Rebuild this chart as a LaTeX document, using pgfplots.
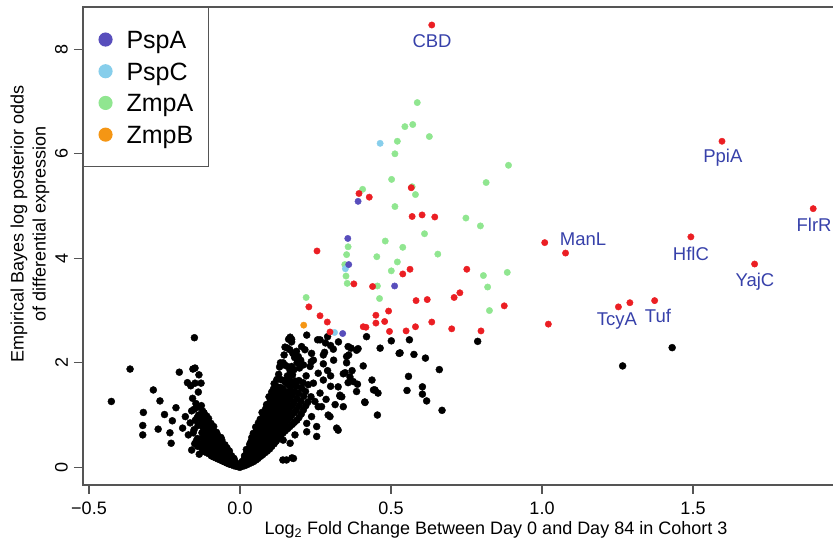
\documentclass[border=0pt]{standalone}
\usepackage{pgfplots}
\pgfplotsset{compat=1.18}
\usepackage{fontspec}
\setmainfont{Liberation Sans}
\definecolor{ptred}{RGB}{235,30,35}
\definecolor{ptgreen}{RGB}{144,230,144}
\definecolor{ptsky}{RGB}{135,206,235}
\definecolor{ptpurple}{RGB}{88,78,188}
\definecolor{ptorange}{RGB}{245,150,20}
\definecolor{lblblue}{RGB}{55,65,170}
\definecolor{axgray}{RGB}{85,85,85}
\begin{document}
\begin{tikzpicture}[x=1pt,y=1pt]
\begin{axis}[
  at={(83pt,60pt)}, anchor=south west,
  scale only axis, width=757pt, height=478pt,
  xmin=-0.51987, xmax=1.98675, ymin=-0.3388, ymax=8.8096,
  axis line style={draw=axgray, line width=1.1pt},
  xtick={-0.5,0,0.5,1,1.5}, xticklabels={−0.5,0.0,0.5,1.0,1.5},
  ytick={0,2,4,6,8}, yticklabels={0,2,4,6,8},
  tick align=outside, xtick pos=left, ytick pos=left,
  major tick length=9pt,
  tick style={draw=axgray, line width=1.1pt},
  tick label style={font=\fontsize{18}{21}\selectfont, inner sep=4pt},
  xticklabel shift=3.5pt, yticklabel shift=2pt,
  yticklabel style={rotate=90, anchor=south},
  legend cell align=left,
  legend style={at={(0,1)}, anchor=north west, draw=axgray, line width=1.1pt, fill=white,
    inner xsep=15.5pt, inner ysep=23pt, font=\fontsize{25}{30}\selectfont, row sep=13.7pt,
    nodes={inner sep=0pt, text height=18pt, text depth=0pt},
    /tikz/every odd column/.style={column sep=14.5pt}},
  every axis plot/.append style={only marks, mark=*},
]
\addlegendimage{only marks, mark=*, mark size=6.5pt, color=ptpurple}
\addlegendentry{PspA}
\addlegendimage{only marks, mark=*, mark size=6.5pt, color=ptsky}
\addlegendentry{PspC}
\addlegendimage{only marks, mark=*, mark size=6.5pt, color=ptgreen}
\addlegendentry{ZmpA}
\addlegendimage{only marks, mark=*, mark size=6.5pt, color=ptorange}
\addlegendentry{ZmpB}
% non-significant proteins
\addplot[forget plot, color=black, mark size=3.5pt] coordinates {
(-0.151,2.48)(-0.364,1.88)(-0.201,1.82)(-0.156,1.88)(-0.149,1.90)(-0.136,1.77)(-0.287,1.48)(-0.174,1.62)(-0.163,1.56)(-0.149,1.61)(-0.129,1.61)(-0.138,1.44)(-0.426,1.26)(-0.265,1.27)(-0.157,1.32)(-0.212,1.14)(-0.320,1.05)(-0.250,1.01)(-0.160,1.08)(-0.152,1.11)(-0.322,0.80)(-0.224,0.89)(-0.181,0.97)(-0.271,0.73)(-0.232,0.66)(-0.322,0.62)(-0.190,0.75)(-0.228,0.46)(-0.171,0.62)(-0.160,0.33)(-0.135,0.25)(-0.155,0.66)(-0.145,0.50)(-0.165,0.85)(-0.142,0.95)(-0.146,1.22)
(-0.140,0.40)(-0.141,0.55)(-0.139,0.80)(-0.137,1.00)(-0.140,1.15)(-0.150,0.45)(-0.152,0.72)(-0.148,0.90)
(-0.125,0.35)(-0.127,0.45)(-0.124,0.56)(-0.126,0.66)(-0.123,0.77)(-0.127,0.88)(-0.125,0.98)(-0.124,1.08)(-0.128,1.18)
(-0.118,0.30)(-0.117,0.40)(-0.119,0.52)(-0.116,0.62)(-0.118,0.72)(-0.120,0.84)(-0.117,0.94)(-0.119,1.04)
(-0.110,0.28)(-0.111,0.38)(-0.109,0.48)(-0.112,0.58)(-0.110,0.68)(-0.108,0.78)(-0.111,0.88)(-0.110,0.98)
(-0.103,0.26)(-0.102,0.35)(-0.104,0.45)(-0.101,0.55)(-0.103,0.65)(-0.105,0.75)(-0.102,0.85)(-0.104,0.93)
(-0.095,0.22)(-0.096,0.32)(-0.094,0.42)(-0.097,0.52)(-0.095,0.62)(-0.093,0.72)(-0.096,0.84)
(-0.088,0.20)(-0.087,0.30)(-0.089,0.40)(-0.086,0.50)(-0.088,0.60)(-0.090,0.70)(-0.087,0.78)
(-0.080,0.18)(-0.081,0.27)(-0.079,0.37)(-0.082,0.47)(-0.080,0.57)(-0.078,0.67)
(-0.073,0.16)(-0.072,0.25)(-0.074,0.34)(-0.071,0.44)(-0.073,0.54)(-0.075,0.63)
(-0.065,0.14)(-0.066,0.22)(-0.064,0.31)(-0.067,0.40)(-0.065,0.50)(-0.063,0.57)
(-0.058,0.12)(-0.057,0.20)(-0.059,0.28)(-0.056,0.36)(-0.058,0.45)(-0.060,0.52)
(-0.050,0.10)(-0.051,0.18)(-0.049,0.26)(-0.052,0.34)(-0.050,0.43)
(-0.043,0.08)(-0.042,0.15)(-0.044,0.23)(-0.041,0.30)(-0.043,0.37)
(-0.035,0.06)(-0.036,0.12)(-0.034,0.19)(-0.037,0.26)(-0.035,0.31)
(-0.028,0.05)(-0.027,0.10)(-0.029,0.16)(-0.028,0.22)
(-0.020,0.03)(-0.021,0.08)(-0.019,0.13)(-0.020,0.17)
(-0.013,0.02)(-0.012,0.05)(-0.014,0.09)
(-0.006,0.01)(-0.005,0.04)(0.000,0.00)
(0.008,0.02)(0.009,0.06)(0.007,0.11)
(0.015,0.03)(0.016,0.09)(0.014,0.16)(0.015,0.22)
(0.023,0.05)(0.022,0.13)(0.024,0.21)(0.023,0.29)(0.021,0.34)
(0.030,0.07)(0.031,0.16)(0.029,0.25)(0.030,0.34)(0.032,0.44)
(0.038,0.09)(0.037,0.19)(0.039,0.29)(0.038,0.39)(0.036,0.49)(0.039,0.57)
(0.045,0.11)(0.046,0.22)(0.044,0.32)(0.045,0.43)(0.047,0.54)(0.044,0.65)
(0.053,0.14)(0.052,0.25)(0.054,0.36)(0.053,0.47)(0.051,0.58)(0.054,0.69)(0.052,0.77)
(0.060,0.17)(0.061,0.28)(0.059,0.40)(0.060,0.51)(0.062,0.62)(0.059,0.73)(0.061,0.85)
(0.068,0.21)(0.067,0.32)(0.069,0.44)(0.068,0.56)(0.066,0.68)(0.069,0.80)(0.067,0.92)
(0.075,0.24)(0.076,0.36)(0.074,0.48)(0.075,0.60)(0.077,0.72)(0.074,0.84)(0.076,0.96)(0.073,1.05)
(0.083,0.28)(0.082,0.40)(0.084,0.52)(0.083,0.64)(0.081,0.76)(0.084,0.88)(0.082,1.00)(0.085,1.12)
(0.090,0.31)(0.091,0.44)(0.089,0.57)(0.090,0.70)(0.092,0.83)(0.089,0.96)(0.091,1.08)(0.088,1.20)
(0.098,0.35)(0.097,0.48)(0.099,0.61)(0.098,0.74)(0.096,0.87)(0.099,1.00)(0.097,1.13)(0.100,1.26)(0.096,1.35)
(0.105,0.40)(0.106,0.53)(0.104,0.66)(0.105,0.79)(0.107,0.92)(0.104,1.05)(0.106,1.18)(0.103,1.31)(0.105,1.44)
(0.113,0.45)(0.112,0.58)(0.114,0.71)(0.113,0.84)(0.111,0.97)(0.114,1.10)(0.112,1.23)(0.115,1.36)(0.111,1.50)(0.113,1.60)
(0.120,0.50)(0.121,0.63)(0.119,0.76)(0.120,0.89)(0.122,1.02)(0.119,1.15)(0.121,1.28)(0.118,1.41)(0.120,1.55)(0.122,1.68)
(0.128,0.55)(0.127,0.68)(0.129,0.81)(0.128,0.94)(0.126,1.07)(0.129,1.20)(0.127,1.33)(0.130,1.47)(0.128,1.78)(0.131,1.92)
(0.135,0.60)(0.136,0.73)(0.134,0.86)(0.135,0.99)(0.137,1.12)(0.134,1.25)(0.136,1.39)(0.133,1.53)(0.135,1.68)(0.134,2.00)
(0.143,0.66)(0.142,0.80)(0.144,0.94)(0.143,1.08)(0.141,1.22)(0.144,1.36)(0.142,1.50)(0.145,1.66)(0.143,2.00)(0.146,2.15)
(0.150,0.70)(0.151,0.85)(0.149,1.00)(0.150,1.15)(0.152,1.30)(0.149,1.45)(0.151,1.62)(0.150,1.95)(0.149,2.30)
(0.158,0.74)(0.157,0.90)(0.159,1.06)(0.158,1.22)(0.156,1.40)(0.159,1.58)(0.157,1.75)(0.160,1.92)(0.158,2.28)(0.161,2.45)
(0.165,0.78)(0.166,0.95)(0.164,1.12)(0.165,1.30)(0.167,1.48)(0.164,1.66)(0.166,1.85)(0.165,2.25)
(0.173,0.82)(0.172,1.00)(0.174,1.18)(0.173,1.38)(0.171,1.57)(0.174,1.77)(0.175,2.18)(0.171,2.40)
(0.180,0.86)(0.181,1.05)(0.179,1.25)(0.180,1.45)(0.182,1.65)(0.179,1.87)(0.181,2.10)
(0.188,0.90)(0.187,1.10)(0.189,1.32)(0.188,1.55)(0.189,2.00)(0.187,2.22)
(0.195,0.95)(0.196,1.18)(0.194,1.42)(0.195,1.66)(0.197,1.90)
(0.203,1.02)(0.202,1.26)(0.204,1.52)(0.201,2.05)
(0.210,1.10)(0.211,1.36)(0.209,1.62)
(0.218,1.18)(0.217,1.45)(0.219,1.75)
(0.225,1.25)(0.226,1.58)
(0.235,1.35)(0.236,2.02)
(0.166,2.49)(0.171,2.45)(0.221,2.53)(0.257,2.44)(0.204,2.31)(0.215,2.25)(0.237,2.18)(0.193,2.12)(0.243,2.05)(0.171,1.93)(0.210,1.96)(0.232,1.93)(0.259,1.80)(0.276,1.67)(0.243,1.61)(0.265,1.42)(0.248,1.26)(0.270,1.16)(0.298,0.97)(0.237,0.97)(0.221,0.84)(0.331,1.38)(0.364,1.73)(0.353,2.12)(0.386,2.24)(0.358,2.31)(0.142,0.14)(0.172,0.18)(0.166,0.46)(0.254,0.59)(0.221,0.68)(0.325,0.71)(0.337,1.35)(0.325,1.54)(0.419,2.50)(0.501,2.42)(0.561,2.44)(0.787,2.41)(0.464,2.28)(0.527,2.18)(0.576,2.16)(0.614,2.09)(0.530,2.19)(0.660,1.87)(0.558,1.74)(0.553,1.47)(0.604,1.54)(0.604,1.40)(0.618,1.27)(0.669,1.09)(1.267,1.94)(1.431,2.29)(0.265,2.44)(0.309,2.26)(0.326,2.40)(0.368,2.28)(0.391,2.27)(0.408,1.94)(0.360,2.15)(0.353,2.00)(0.342,1.79)(0.371,1.85)(0.358,1.62)(0.389,1.59)(0.437,1.67)(0.442,1.48)(0.457,1.42)(0.413,1.25)(0.331,1.36)(0.342,1.16)(0.455,1.00)(0.276,1.98)(0.276,2.15)(0.320,0.75)(0.348,1.81)(0.375,1.64)(0.386,1.45)(0.447,1.48)(0.414,1.24)(0.259,1.16)(0.292,1.00)(0.254,0.78)(0.182,0.62)(0.154,0.14)(0.177,0.17)(0.143,0.52)(0.290,2.50)(0.283,2.38)(0.300,2.33)(0.280,2.20)(0.290,1.85)(0.300,1.55)(0.285,1.30)(0.300,1.75)(0.310,2.05)(0.315,1.20)
};
% ZmpA
\addplot[forget plot, color=ptgreen, mark size=3.2pt] coordinates {
(0.587,6.98)(0.546,6.52)(0.572,6.56)(0.627,6.33)(0.889,5.78)(0.815,5.45)(0.581,5.22)(0.570,5.37)(0.748,4.77)(0.796,4.62)(0.611,4.47)(0.539,4.21)(0.655,4.08)(0.806,3.67)(0.885,3.73)(0.820,3.45)(0.826,3.00)(0.358,4.22)(0.353,4.07)(0.347,3.88)(0.351,3.66)(0.355,3.52)(0.453,4.03)(0.481,4.33)(0.521,3.93)(0.501,3.76)(0.455,3.47)(0.462,3.23)(0.219,3.25)(0.521,6.24)(0.513,6.00)(0.502,5.51)(0.406,5.32)(0.513,4.99)
};
% PspC
\addplot[forget plot, color=ptsky, mark size=3.2pt] coordinates {
(0.464,6.20)(0.349,3.80)(0.313,2.58)
};
% PspA
\addplot[forget plot, color=ptpurple, mark size=3.2pt] coordinates {
(0.357,4.38)(0.360,3.88)(0.391,5.09)(0.512,3.47)(0.340,2.56)
};
% ZmpB
\addplot[forget plot, color=ptorange, mark size=3.2pt] coordinates {
(0.211,2.72)
};
% other significant proteins
\addplot[forget plot, color=ptred, mark size=3.2pt] coordinates {
(0.635,8.465)(1.596,6.24)(1.898,4.95)(1.493,4.41)(1.704,3.89)(1.009,4.30)(1.078,4.10)(1.253,3.07)(1.291,3.15)(1.373,3.19)(0.567,5.35)(0.570,4.80)(0.603,4.83)(0.645,4.79)(0.751,3.79)(0.563,3.79)(0.539,3.70)(0.583,3.19)(0.620,3.21)(0.709,3.25)(0.728,3.34)(0.875,3.09)(1.021,2.74)(0.550,2.61)(0.581,2.69)(0.635,2.78)(0.701,2.65)(0.798,2.61)(0.377,3.51)(0.439,3.46)(0.265,2.90)(0.289,2.78)(0.298,2.59)(0.450,2.91)(0.492,2.99)(0.450,2.76)(0.479,2.79)(0.408,2.69)(0.417,2.68)(0.495,2.60)(0.255,4.14)(0.228,3.07)(0.394,5.24)(0.428,5.17)
};
\begin{scope}[every node/.style={text=lblblue, font=\fontsize{18.5}{22}\selectfont}]
\node at (axis cs:0.636,8.16) {CBD};
\node at (axis cs:1.599,5.92) {PpiA};
\node at (axis cs:1.901,4.64) {FlrR};
\node at (axis cs:1.136,4.37) {ManL};
\node at (axis cs:1.493,4.08) {HflC};
\node at (axis cs:1.705,3.56) {YajC};
\node at (axis cs:1.248,2.80) {TcyA};
\node at (axis cs:1.384,2.90) {Tuf};
\end{scope}
\end{axis}
\node[font=\fontsize{18}{21}\selectfont] at (496,15) {Log\textsubscript{2} Fold Change Between Day 0 and Day 84 in Cohort 3};
\node[rotate=90, font=\fontsize{18}{21}\selectfont] at (19,321) {Empirical Bayes log posterior odds};
\node[rotate=90, font=\fontsize{18}{21}\selectfont] at (41,321) {of differential expression};
\pgfresetboundingbox
\useasboundingbox (0,0) rectangle (833,545);
\end{tikzpicture}
\end{document}
